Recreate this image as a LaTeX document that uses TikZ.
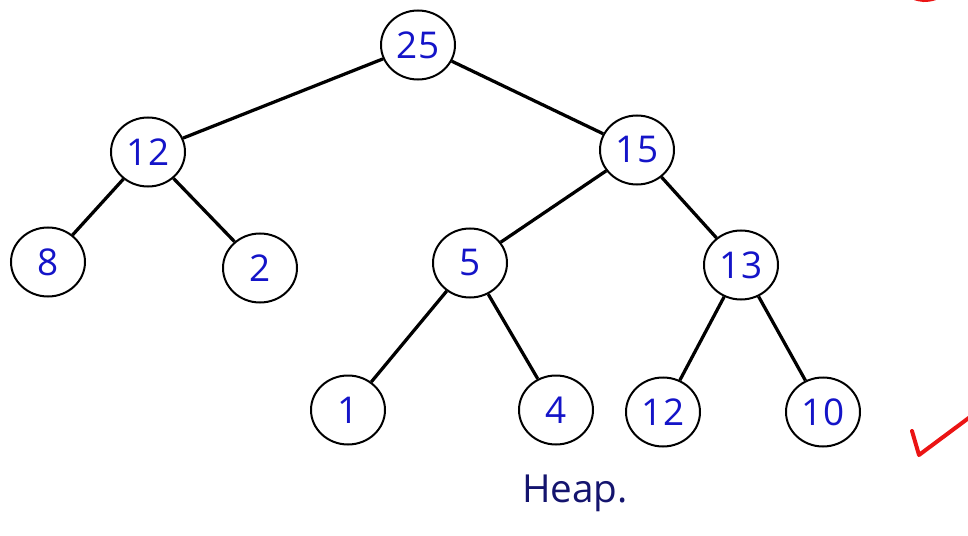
\documentclass[tikz,border=0pt]{standalone}
\usepackage{fontspec}
\setmainfont{Open Sans}
\usetikzlibrary{shapes.geometric}
\definecolor{inkblue}{RGB}{20,20,200}
\definecolor{inknavy}{RGB}{20,20,110}
\definecolor{inkred}{RGB}{235,20,20}
\begin{document}
\begin{tikzpicture}[
    key/.style={ellipse, draw, line width=.4mm, minimum width=1.48cm, minimum height=1.38cm,
      inner sep=0pt, text=inkblue, font=\fontsize{21}{24}\selectfont},
    edge/.style={line width=.65mm}
  ]
  \useasboundingbox (0, 0) rectangle (19.36, 10.7);
  %%root
  \node[key] (r) at (8.36, 9.8) {25};
  %%level 1
  \node[key] (a) at (2.96, 7.66) {12};
  \node[key] (b) at (12.74, 7.7) {15};
  %%level 2
  \node[key] (aa) at (0.96, 5.46) {8};
  \node[key] (ab) at (5.2, 5.34) {2};
  \node[key] (ba) at (9.4, 5.44) {5};
  \node[key] (bb) at (14.82, 5.4) {13};
  %%leaves
  \node[key] (baa) at (6.96, 2.5) {1};
  \node[key] (bab) at (11.12, 2.5) {4};
  \node[key] (bba) at (13.26, 2.46) {12};
  \node[key] (bbb) at (16.46, 2.46) {10};

  \draw[edge] (r) -- (a);
  \draw[edge] (r) -- (b);
  \draw[edge] (a) -- (aa);
  \draw[edge] (a) -- (ab);
  \draw[edge] (b) -- (ba);
  \draw[edge] (b) -- (bb);
  \draw[edge] (ba) -- (baa);
  \draw[edge] (ba) -- (bab);
  \draw[edge] (bb) -- (bba);
  \draw[edge] (bb) -- (bbb);

  \node[text=inknavy, font=\fontsize{22}{24}\selectfont] (cap) at (11.5, 0.84) {Heap.};

  %%red marks
  \draw[inkred, line width=.8mm, line cap=round, line join=round]
    (18.24, 2.08) -- (18.38, 1.6) -- (19.4, 2.36);
  \draw[inkred, line width=.9mm, line cap=round] (18.25, 10.76) to[bend right=20] (18.7, 10.74);
\end{tikzpicture}
\end{document}
